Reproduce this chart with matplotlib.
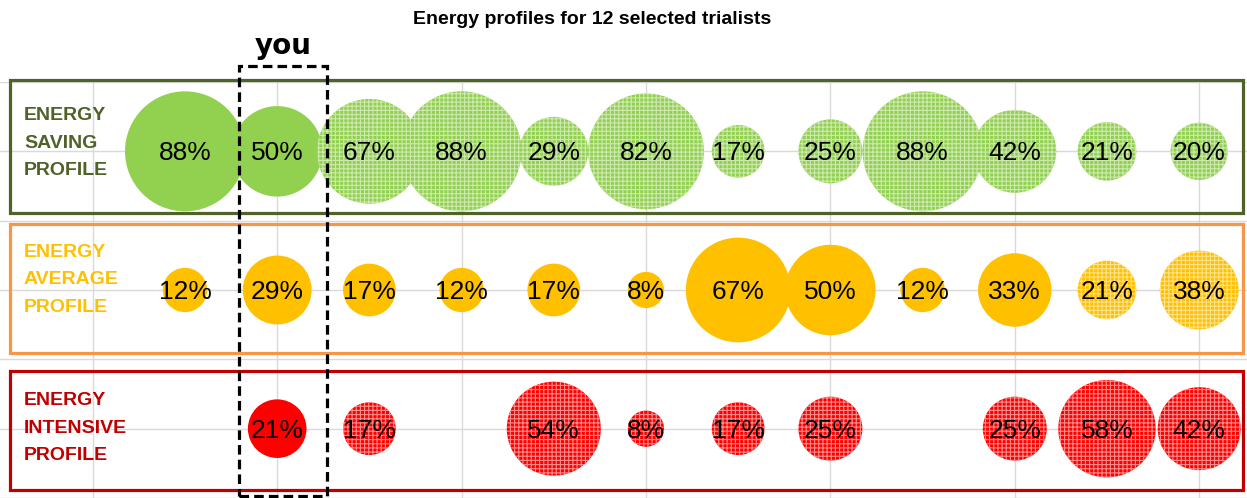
import matplotlib
matplotlib.use("Agg")
import matplotlib.pyplot as plt
from matplotlib.patches import Rectangle

# ---------------- data ----------------
title = "Energy profiles for 12 selected trialists"
trialists = list(range(1, 13))
row_labels = ["ENERGY\nSAVING\nPROFILE", "ENERGY\nAVERAGE\nPROFILE", "ENERGY\nINTENSIVE\nPROFILE"]
row_levels = [5, 3, 1]
saving = [88, 50, 67, 88, 29, 82, 17, 25, 88, 42, 21, 20]
average = [12, 29, 17, 12, 17, 8, 67, 50, 12, 33, 21, 38]
intensive = [None, 21, 17, None, 54, 8, 17, 25, None, 25, 58, 42]
saving_solid = [1, 2]
average_solid = [1, 2, 3, 4, 5, 6, 7, 8, 9, 10]
intensive_solid = [2]
you_label = "you"

# ---------------- style ----------------
W, H = 1247, 498
SANS = ["Liberation Sans", "DejaVu Sans"]
plt.rcParams["hatch.color"] = (1, 1, 1, 0.55)
plt.rcParams["hatch.linewidth"] = 0.8

row_colors = ["#92D050", "#FFC000", "#FF0000"]
text_colors = ["#4F6228", "#FFC000", "#C00000"]
box_colors = ["#4F6228", "#F79646", "#C00000"]

fig = plt.figure(figsize=(W / 100, H / 100), dpi=100)
ax = fig.add_axes([0, 0, 1, (H - 82) / H])
ax.set_xlim(-92.8 / 92.2, (W - 92.8) / 92.2)
ax.set_ylim(1 - (498 - 430) / 69.6, 6.0)
ax.set_xticks(range(0, 13, 2))
ax.set_yticks(range(0, 7))
ax.grid(True, color="#D9D9D9", lw=1.0)
ax.tick_params(length=0, labelbottom=False, labelleft=False)
for sp in ax.spines.values():
    sp.set_visible(False)
ax.set_axisbelow(True)

K = (0.72 * 120) ** 2 / 88.0  # marker area per percent

series = [saving, average, intensive]
solids = [saving_solid, average_solid, intensive_solid]
for r, (vals, solid, level, col) in enumerate(zip(series, solids, row_levels, row_colors)):
    for t, v in zip(trialists, vals):
        if v is None:
            continue
        s = K * v
        ax.scatter([t], [level], s=s, color=col, edgecolors="none", zorder=3)
        if t not in solid:
            ax.scatter([t], [level], s=s, facecolors="none", edgecolors=(1, 1, 1, 0.55),
                       linewidths=0, hatch="++++", zorder=3)
        ax.annotate(f"{v}%", (t, level), xytext=(0, -2), textcoords="offset pixels",
                    ha="center", va="center", fontsize=19,
                    family=SANS, color="black", zorder=5)


def px_rect(x0, y0, x1, y1, **kw):
    r = Rectangle((x0 / W, 1 - y1 / H), (x1 - x0) / W, (y1 - y0) / H,
                  transform=fig.transFigure, fill=False, **kw)
    fig.add_artist(r)
    return r

# profile boxes
box_px = [(10, 80, 1243, 213), (10, 224, 1243, 353), (10, 371, 1243, 490)]
label_y = [143, 280, 428]
for (x0, y0, x1, y1), bc, tc, lab, ly in zip(box_px, box_colors, text_colors, row_labels, label_y):
    px_rect(x0, y0, x1, y1, edgecolor=bc, lw=2.3, zorder=6)
    fig.text(24 / W, 1 - ly / H, lab, ha="left", va="center", fontsize=14,
             fontweight="bold", family=SANS, color=tc, linespacing=1.8,
             multialignment="left")

# "you" box
px_rect(239, 66, 327, 496, edgecolor="black", lw=2.3, linestyle=(0, (3, 1.6)), zorder=7)
fig.text(283 / W, 1 - 46 / H, you_label, ha="center", va="center", fontsize=20,
         fontweight="bold", family="DejaVu Sans", color="black")

fig.text(592 / W, 1 - 19 / H, title, ha="center", va="center", fontsize=14,
         fontweight="bold", family=SANS, color="black")

fig.savefig("out.png", dpi=100)
